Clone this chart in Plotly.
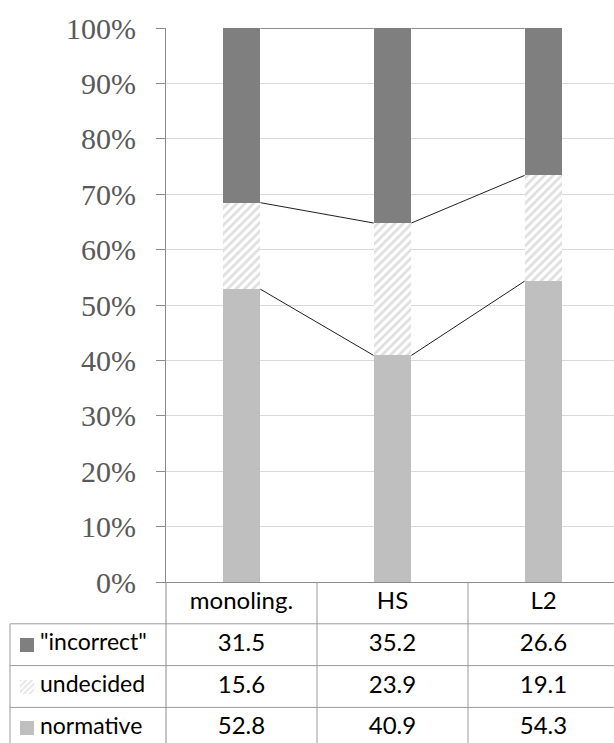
import plotly.graph_objects as go

# ---- data -------------------------------------------------------------
groups = ["monoling.", "HS", "L2"]
series_names = ['"incorrect"', "undecided", "normative"]
normative = [52.8, 40.9, 54.3]
undecided = [15.6, 23.9, 19.1]
incorrect = [31.5, 35.2, 26.6]
y_ticks = [0, 10, 20, 30, 40, 50, 60, 70, 80, 90, 100]
y_tick_labels = ["0%", "10%", "20%", "30%", "40%", "50%",
                 "60%", "70%", "80%", "90%", "100%"]

# ---- geometry (pixels) ------------------------------------------------
W, H = 614, 743
PLOT_LEFT = 166          # y axis position
PLOT_TOP = 28            # 100 %
PLOT_BOTTOM = 582        # 0 %
CAT_PX = 151             # width of one category column
ROW_PX = 41.8            # height of one table row
TABLE_LEFT = 10
BAR_W = 0.25

C_INC = "#7f7f7f"
C_NORM = "#bfbfbf"
C_HATCH = "#bdbdbd"
C_GRID = "#d9d9d9"
C_AXIS = "#8c8c8c"
C_TABLE = "#9a9a9a"
C_TICK = "#595959"
TABLE_FAMILY = "Lato, 'Open Sans', sans-serif"
CELL_FONT = dict(family=TABLE_FAMILY, size=24, color="#000000")
LABEL_FONT = dict(family=TABLE_FAMILY, size=23, color="#000000")

n = len(groups)
xs = list(range(n))
totals = [a + b + c for a, b, c in zip(normative, undecided, incorrect)]
p_norm = [v / t * 100 for v, t in zip(normative, totals)]
p_und = [v / t * 100 for v, t in zip(undecided, totals)]
p_inc = [v / t * 100 for v, t in zip(incorrect, totals)]
cum1 = p_norm
cum2 = [a + b for a, b in zip(p_norm, p_und)]
cum3 = [a + b + c for a, b, c in zip(p_norm, p_und, p_inc)]

# axis ranges in category units
x_lo = -0.5
x_hi = -0.5 + (W - PLOT_LEFT) / CAT_PX
x2_lo = -0.5 - PLOT_LEFT / CAT_PX
x_tab_left = -0.5 - (PLOT_LEFT - TABLE_LEFT) / CAT_PX
tab_rows = (H - PLOT_BOTTOM) / ROW_PX

fig = go.Figure()

# ---- stacked 100 % bars ----------------------------------------------
fig.add_trace(go.Bar(x=xs, y=p_norm, base=[0] * n, width=BAR_W,
                     marker=dict(color=C_NORM, line=dict(width=0)),
                     xaxis="x", yaxis="y", showlegend=False))
fig.add_trace(go.Bar(x=xs, y=p_und, base=cum1, width=BAR_W,
                     marker=dict(color="white", line=dict(width=0),
                                 pattern=dict(shape="/", fgcolor=C_HATCH,
                                              bgcolor="white", size=6,
                                              solidity=0.45)),
                     xaxis="x", yaxis="y", showlegend=False))
fig.add_trace(go.Bar(x=xs, y=p_inc, base=cum2, width=BAR_W,
                     marker=dict(color=C_INC, line=dict(width=0)),
                     xaxis="x", yaxis="y", showlegend=False))

# ---- series lines joining the stack boundaries ------------------------
for cum in (cum1, cum2, cum3):
    lx, ly = [], []
    for i in range(n - 1):
        lx += [i + BAR_W / 2, i + 1 - BAR_W / 2, None]
        ly += [cum[i], cum[i + 1], None]
    fig.add_trace(go.Scatter(x=lx, y=ly, mode="lines",
                             line=dict(color="#202020", width=1),
                             xaxis="x", yaxis="y", showlegend=False,
                             hoverinfo="skip"))

# ---- data table -------------------------------------------------------
# header row
fig.add_trace(go.Scatter(x=xs, y=[0.5] * n, text=groups, mode="text",
                         textfont=CELL_FONT, textposition="middle center",
                         xaxis="x2", yaxis="y2", showlegend=False,
                         hoverinfo="skip"))
rows = [incorrect, undecided, normative]
for r, vals in enumerate(rows):
    fig.add_trace(go.Scatter(x=xs, y=[r + 1.5] * n,
                             text=[f"{v:.1f}" for v in vals], mode="text",
                             textfont=CELL_FONT, textposition="middle center",
                             xaxis="x2", yaxis="y2", showlegend=False,
                             hoverinfo="skip"))

# row labels
label_x = -0.5 - (PLOT_LEFT - 40) / CAT_PX
fig.add_trace(go.Scatter(x=[label_x] * 3, y=[1.5, 2.5, 3.5],
                         text=series_names, mode="text",
                         textfont=LABEL_FONT, textposition="middle right",
                         xaxis="x2", yaxis="y2", showlegend=False,
                         hoverinfo="skip"))

# legend keys in the table
key_x = -0.5 - (PLOT_LEFT - 27) / CAT_PX
key_w = 14 / CAT_PX
key_h = 14 / ROW_PX
key_styles = [
    dict(color=C_INC, line=dict(width=0)),
    dict(color="white", line=dict(width=0),
         pattern=dict(shape="/", fgcolor=C_HATCH, bgcolor="white",
                      size=4, solidity=0.35)),
    dict(color=C_NORM, line=dict(width=0)),
]
for r, st in enumerate(key_styles):
    yc = r + 1.5
    fig.add_trace(go.Bar(x=[key_x], y=[key_h], base=[yc - key_h / 2],
                         width=key_w, marker=st, xaxis="x2", yaxis="y2",
                         showlegend=False, hoverinfo="skip"))

# table grid lines
shapes = []
for yy in (1, 2, 3):
    shapes.append(dict(type="line", xref="x2", yref="y2",
                       x0=x_tab_left, x1=x_hi, y0=yy, y1=yy,
                       line=dict(color=C_TABLE, width=1)))
for xx in (0.5, 1.5):
    shapes.append(dict(type="line", xref="x2", yref="y2",
                       x0=xx, x1=xx, y0=0, y1=tab_rows,
                       line=dict(color=C_TABLE, width=1)))
shapes.append(dict(type="line", xref="x2", yref="y2",
                   x0=-0.5, x1=-0.5, y0=0, y1=tab_rows,
                   line=dict(color=C_AXIS, width=1)))
shapes.append(dict(type="line", xref="x2", yref="y2",
                   x0=x_tab_left, x1=x_tab_left, y0=1, y1=tab_rows,
                   line=dict(color=C_TABLE, width=1)))

plot_y0 = (H - PLOT_BOTTOM) / H
plot_y1 = (H - PLOT_TOP) / H

fig.update_layout(
    width=W, height=H,
    margin=dict(l=0, r=0, t=0, b=0, autoexpand=False),
    paper_bgcolor="white", plot_bgcolor="white",
    barmode="overlay",
    bargap=0,
    shapes=shapes,
    xaxis=dict(domain=[PLOT_LEFT / W, 1], range=[x_lo, x_hi],
               showticklabels=False, ticks="", showgrid=False,
               zeroline=False, showline=True, linecolor=C_AXIS,
               linewidth=1, fixedrange=True, automargin=False),
    yaxis=dict(domain=[plot_y0, plot_y1], range=[0, 100],
               tickmode="array", tickvals=y_ticks, ticktext=y_tick_labels,
               ticks="outside",
               ticklen=9, tickcolor=C_AXIS, tickwidth=1,
               ticklabelstandoff=14,
               tickfont=dict(family="Liberation Serif, Times New Roman, serif",
                             size=30, color=C_TICK),
               showgrid=True, gridcolor=C_GRID, gridwidth=1,
               zeroline=False, showline=True, linecolor=C_AXIS,
               linewidth=1, fixedrange=True, automargin=False),
    xaxis2=dict(domain=[0, 1], range=[x2_lo, x_hi], anchor="y2",
                visible=False, fixedrange=True, automargin=False),
    yaxis2=dict(domain=[0, plot_y0], range=[tab_rows, 0], anchor="x2",
                visible=False, fixedrange=True, automargin=False),
)

fig.write_html("out.html")
